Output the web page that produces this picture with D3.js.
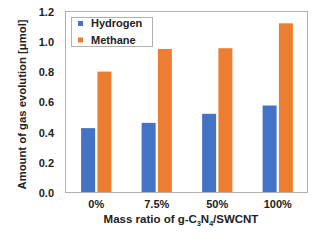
<!DOCTYPE html>
<html>
<head>
<meta charset="utf-8">
<script src="https://cdn.jsdelivr.net/npm/d3@7"></script>
<style>
  body { margin: 0; background: #fff; }
  text { font-family: "Liberation Sans", Arial, sans-serif; font-weight: bold; fill: #222; }
</style>
</head>
<body>
<div id="chart"></div>
<script>
const categories = ["0%", "7.5%", "50%", "100%"];
const seriesNames = ["Hydrogen", "Methane"];
const hydrogen = [0.43, 0.465, 0.525, 0.58];
const methane = [0.805, 0.955, 0.96, 1.125];
const yTicks = [0, 0.2, 0.4, 0.6, 0.8, 1.0, 1.2];
const colors = ["#4472C4", "#ED7D31"];

const width = 322, height = 241;
const margin = {top: 12, right: 14, bottom: 48, left: 66};

const svg = d3.select("#chart").append("svg")
  .attr("width", width)
  .attr("height", height);

const x = d3.scaleBand()
  .domain(categories)
  .range([margin.left, width - margin.right]);

const xs = d3.scaleBand()
  .domain(seriesNames)
  .range([x.bandwidth() * 0.25, x.bandwidth() * 0.75])
  .paddingInner(0.14);

const y = d3.scaleLinear()
  .domain([0, 1.2])
  .range([height - margin.bottom, margin.top]);

const rows = categories.map((c, i) => ({cat: c, values: [hydrogen[i], methane[i]]}));

// bars
svg.append("g")
  .selectAll("g")
  .data(rows)
  .enter()
  .append("g")
  .attr("transform", d => `translate(${x(d.cat)},0)`)
  .selectAll("rect")
  .data(d => d.values.map((v, j) => ({name: seriesNames[j], v, j})))
  .enter()
  .append("rect")
  .attr("x", d => xs(d.name))
  .attr("width", xs.bandwidth())
  .attr("y", d => y(d.v))
  .attr("height", d => y(0) - y(d.v))
  .attr("fill", d => colors[d.j]);

// frame
svg.append("rect")
  .attr("x", margin.left - 0.5)
  .attr("y", margin.top - 0.5)
  .attr("width", width - margin.left - margin.right)
  .attr("height", height - margin.top - margin.bottom)
  .attr("fill", "none")
  .attr("stroke", "#b0b0b0")
  .attr("stroke-width", 1);

// y ticks
svg.append("g")
  .selectAll("text")
  .data(yTicks)
  .enter()
  .append("text")
  .attr("x", margin.left - 12)
  .attr("y", d => y(d))
  .attr("dy", "0.35em")
  .attr("text-anchor", "end")
  .attr("font-size", 11)
  .text(d => d.toFixed(1));

// x ticks
svg.append("g")
  .selectAll("text")
  .data(categories)
  .enter()
  .append("text")
  .attr("x", d => x(d) + x.bandwidth() / 2)
  .attr("y", height - margin.bottom + 15)
  .attr("text-anchor", "middle")
  .attr("font-size", 11)
  .text(d => d);

// x title
const xt = svg.append("text")
  .attr("x", 181)
  .attr("y", height - 18)
  .attr("text-anchor", "middle")
  .attr("font-size", 11.5);
xt.append("tspan").text("Mass ratio of g-C");
xt.append("tspan").attr("font-size", 7).attr("dy", 3).text("3");
xt.append("tspan").attr("dy", -3).text("N");
xt.append("tspan").attr("font-size", 7).attr("dy", 3).text("4");
xt.append("tspan").attr("dy", -3).text("/SWCNT");

// y title
svg.append("text")
  .attr("transform", "translate(22.5,104.5) rotate(-90)")
  .attr("dy", "0.35em")
  .attr("text-anchor", "middle")
  .attr("font-size", 11.3)
  .text("Amount of gas evolution [μmol]");

// legend
svg.append("rect")
  .attr("x", 71.5).attr("y", 17.5)
  .attr("width", 81).attr("height", 29)
  .attr("fill", "#fff")
  .attr("stroke", "#b0b0b0");

const legend = svg.append("g")
  .selectAll("g")
  .data(seriesNames)
  .enter()
  .append("g")
  .attr("transform", (d, i) => `translate(78,${23.5 + i * 16.5})`);
legend.append("rect")
  .attr("x", 0).attr("y", -2.5)
  .attr("width", 5).attr("height", 5)
  .attr("fill", (d, i) => colors[i]);
legend.append("text")
  .attr("x", 13)
  .attr("dy", "0.35em")
  .attr("font-size", 11)
  .text(d => d);
</script>
</body>
</html>
